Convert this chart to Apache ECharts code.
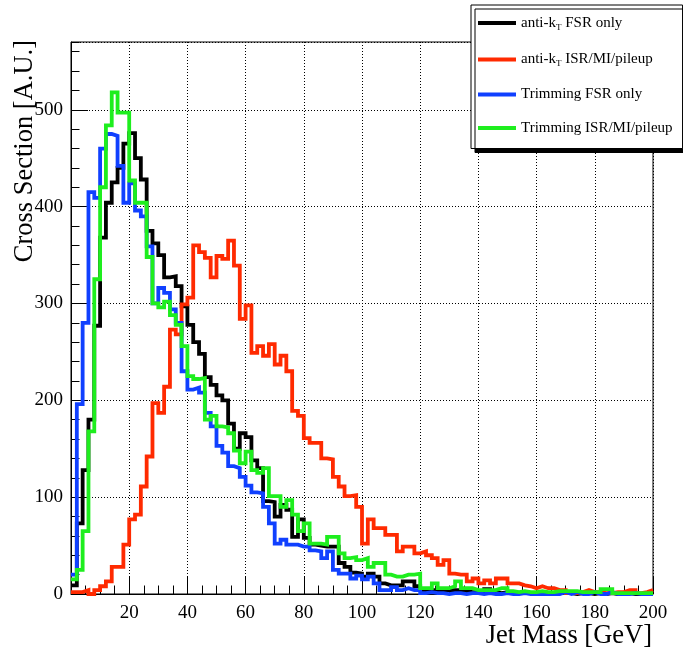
<!DOCTYPE html>
<html>
<head>
<meta charset="utf-8">
<script src="https://cdn.jsdelivr.net/npm/echarts@6.0.0/dist/echarts.min.js"></script>
<style>
html, body { margin: 0; padding: 0; background: #fff; }
#chart { width: 683px; height: 655px; }
</style>
</head>
<body>
<div id="chart"></div>
<script>
// jet mass histograms, 100 bins of 2 GeV between 0 and 200
const massMin = 0;
const massMax = 200;
const binWidth = 2;
const binEdges = [];
for (let x = massMin; x <= massMax; x += binWidth) binEdges.push(x);

const xTicks = [20, 40, 60, 80, 100, 120, 140, 160, 180, 200];
const yTicks = [0, 100, 200, 300, 400, 500];

// anti-kT, FSR only (black)
const antiktFsr = [
  9, 73, 128, 180, 277, 368, 404, 425, 440, 465,
  476, 450, 428, 375, 362, 350, 327, 328, 318, 297,
  278, 260, 248, 224, 216, 205, 200, 176, 150, 166,
  162, 138, 130, 96, 95, 80, 92, 87, 59, 77,
  58, 51, 50, 49, 49, 49, 32, 28, 22, 21,
  18, 21, 18, 11, 9, 9, 9, 13, 13, 8,
  4, 4, 4, 4, 4, 4, 4, 3, 2, 2,
  2, 5, 2, 1, 2, 1, 1, 2, 1, 1,
  1, 1, 1, 1, 1, 1, 0, 1, 1, 0,
  1, 0, 1, 0, 0, 1, 0, 0, 1, 0
];

// anti-kT, ISR/MI/pileup (red)
const antiktIsr = [
  2, 2, 4, 0, 4, 8, 13, 28, 28, 51,
  77, 82, 111, 142, 197, 187, 214, 273, 268, 299,
  306, 360, 353, 347, 327, 349, 346, 365, 339, 284,
  298, 249, 256, 246, 258, 237, 246, 230, 189, 184,
  161, 156, 156, 140, 139, 121, 111, 101, 102, 90,
  52, 77, 68, 68, 61, 61, 44, 49, 49, 42,
  44, 40, 37, 30, 35, 21, 20, 20, 13, 16,
  11, 14, 11, 16, 16, 11, 11, 9, 8, 6,
  8, 6, 6, 4, 4, 1, 1, 2, 4, 2,
  2, 1, 1, 2, 2, 4, 4, 1, 2, 4
];

// trimming, FSR only (blue)
const trimFsr = [
  20, 196, 280, 415, 409, 460, 475, 473, 442, 404,
  424, 396, 390, 359, 300, 316, 311, 294, 280, 230,
  211, 213, 208, 187, 173, 153, 146, 132, 130, 121,
  112, 105, 104, 90, 73, 52, 56, 51, 51, 49,
  49, 45, 44, 37, 44, 25, 21, 21, 16, 19,
  15, 18, 11, 4, 4, 7, 4, 6, 4, 4,
  1, 2, 1, 1, 0, 1, 1, 0, 1, 1,
  0, 1, 0, 0, 1, 0, 0, 1, 0, 0,
  0, 0, 0, 0, 2, 0, 2, 0, 0, 2,
  0, 0, 2, 0, 0, 0, 1, 0, 0, 0
];

// trimming, ISR/MI/pileup (green)
const trimIsr = [
  15, 25, 65, 168, 325, 420, 484, 518, 497, 497,
  427, 404, 404, 348, 300, 296, 302, 288, 278, 256,
  225, 222, 223, 180, 184, 173, 172, 166, 148, 135,
  147, 128, 125, 130, 101, 101, 90, 97, 82, 65,
  73, 52, 52, 51, 59, 59, 42, 37, 38, 35,
  37, 28, 32, 32, 20, 18, 18, 20, 20, 21,
  6, 6, 11, 6, 6, 8, 13, 6, 6, 4,
  4, 4, 4, 6, 6, 3, 2, 3, 2, 2,
  3, 2, 2, 3, 3, 3, 3, 2, 2, 2,
  2, 5, 5, 1, 1, 1, 1, 1, 1, 1
];

const seriesNames = ['anti-kT FSR only', 'anti-kT ISR/MI/pileup', 'Trimming FSR only', 'Trimming ISR/MI/pileup'];
const seriesColors = ['#000000', '#ff2a00', '#1040ff', '#1eee1e'];
const seriesValues = [antiktFsr, antiktIsr, trimFsr, trimIsr];

const serif = '"Liberation Serif", "DejaVu Serif", serif';
let myChart = echarts.init(document.getElementById('chart'));

// histogram outline: one point per bin low edge + closing point at the last edge
function toSteps(vals) {
    const pts = vals.map((v, i) => [binEdges[i], v]);
    pts.push([binEdges[vals.length], vals[vals.length - 1]]);
    return pts;
}

// k with subscript T in the legend
function legendText(name) {
    if (name.indexOf('anti-kT') === 0) {
        return '{a|anti-k}{s|T}{a|' + name.slice(7) + '}';
    }
    return '{a|' + name + '}';
}

let option = {
    backgroundColor: '#fff',
    animation: false,
    grid: {
        left: 71,
        right: 30,
        top: 42,
        bottom: 61,
        show: true,
        borderColor: '#000',
        borderWidth: 1
    },
    legend: {
        orient: 'vertical',
        left: 471,
        top: 5,
        padding: [9, 10, 13, 7],
        itemGap: 18.5,
        itemWidth: 38,
        itemHeight: 4,
        icon: 'rect',
        backgroundColor: '#fff',
        borderColor: '#000',
        borderWidth: 1,
        shadowColor: '#000',
        shadowOffsetX: 4,
        shadowOffsetY: 4,
        shadowBlur: 0,
        data: seriesNames,
        formatter: legendText,
        textStyle: {
            rich: {
                a: { fontFamily: serif, fontSize: 15, color: '#000', lineHeight: 18 },
                s: { fontFamily: serif, fontSize: 9, color: '#000', lineHeight: 9, padding: [9, 0, 0, 0] }
            }
        }
    },
    xAxis: {
        type: 'value',
        min: massMin,
        max: massMax,
        interval: 20,
        axisLine: { onZero: false, lineStyle: { color: '#000', width: 1 } },
        axisTick: { inside: true, length: 17, lineStyle: { color: '#000' } },
        minorTick: { show: true, splitNumber: 4, length: 8.5, lineStyle: { color: '#000' } },
        axisLabel: {
            showMinLabel: false,
            margin: 10,
            color: '#000',
            fontFamily: serif,
            fontSize: 19,
            formatter: v => (xTicks.indexOf(v) >= 0 ? String(v) : '')
        },
        splitLine: { show: true, lineStyle: { color: '#000', width: 1, type: [1, 2] } }
    },
    yAxis: [{
        type: 'value',
        min: 0,
        max: 570,
        interval: 100,
        axisLine: { show: true, lineStyle: { color: '#000', width: 1 } },
        axisTick: { show: true, inside: true, length: 17, lineStyle: { color: '#000' } },
        axisLabel: {
            showMaxLabel: false,
            margin: 8,
            color: '#000',
            fontFamily: serif,
            fontSize: 19,
            formatter: v => (yTicks.indexOf(v) >= 0 ? String(v) : '')
        },
        splitLine: { show: true, lineStyle: { color: '#000', width: 1, type: [1, 2] } }
    }, {
        // minor ticks every 20
        type: 'value',
        min: 0,
        max: 570,
        interval: 20,
        position: 'left',
        axisLine: { show: false },
        axisTick: { show: true, inside: true, length: 8.5, lineStyle: { color: '#000' } },
        axisLabel: { show: false },
        splitLine: { show: false }
    }],
    graphic: [{
        type: 'text',
        x: 25,
        y: 40,
        rotation: Math.PI / 2,
        style: {
            text: 'Cross Section [A.U.]',
            font: '26.5px ' + serif,
            fill: '#000',
            align: 'right',
            verticalAlign: 'middle'
        }
    }, {
        type: 'text',
        x: 652,
        y: 636,
        style: {
            text: 'Jet Mass [GeV]',
            font: '26.5px ' + serif,
            fill: '#000',
            align: 'right',
            verticalAlign: 'middle'
        }
    }],
    series: seriesValues.map((vals, i) => ({
        name: seriesNames[i],
        type: 'line',
        step: 'end',
        symbol: 'none',
        yAxisIndex: 0,
        data: toSteps(vals),
        itemStyle: { color: seriesColors[i] },
        lineStyle: { color: seriesColors[i], width: 3.8, join: 'miter', cap: 'butt' }
    }))
};

myChart.setOption(option);
</script>
</body>
</html>
